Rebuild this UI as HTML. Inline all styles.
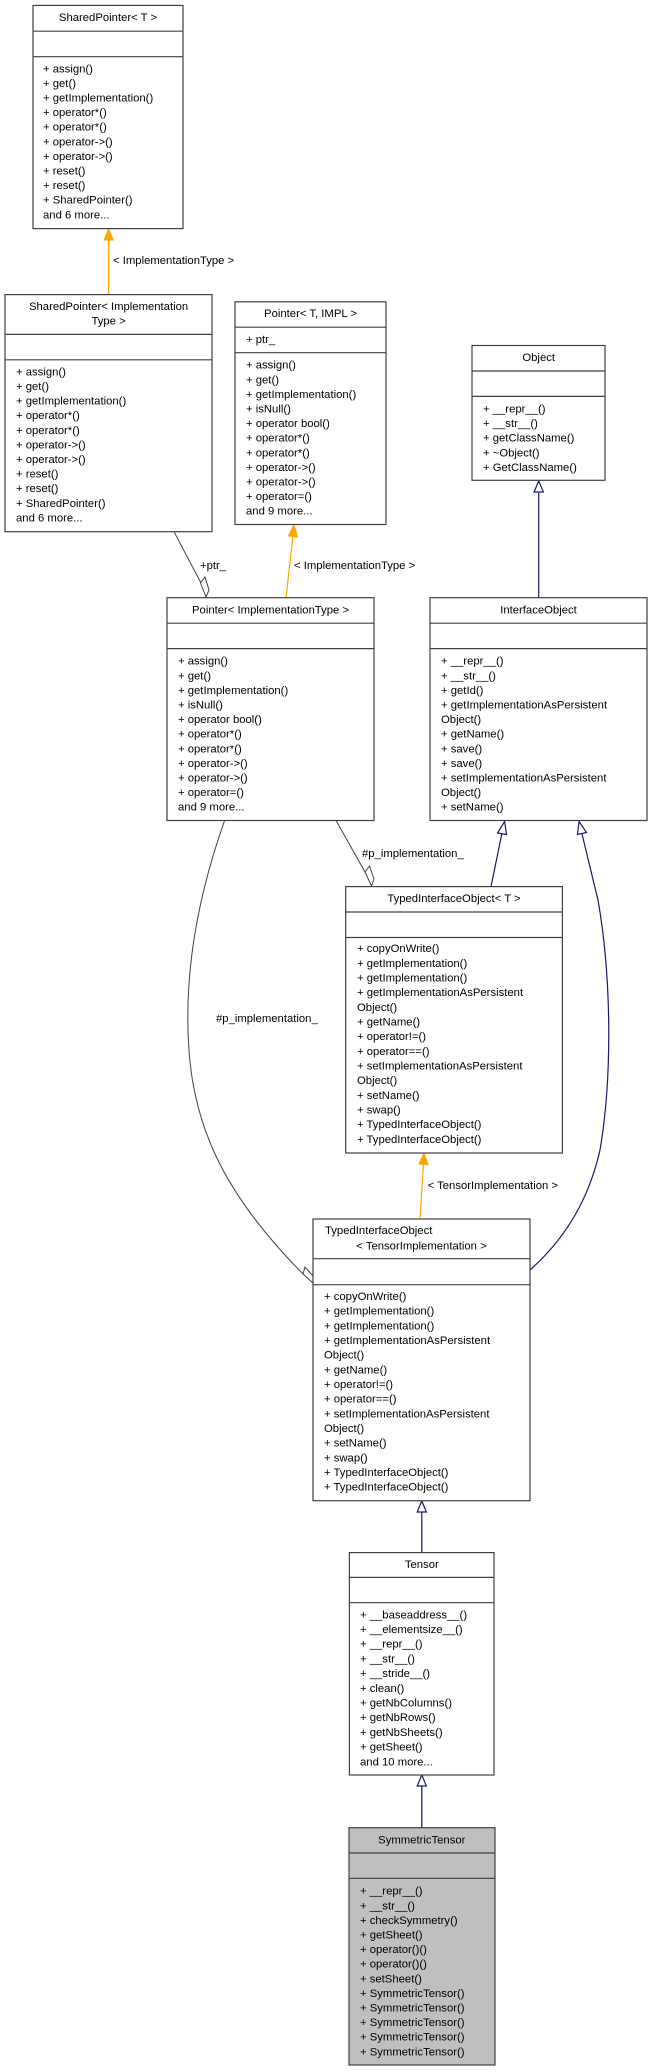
<!DOCTYPE html>
<html><head><meta charset="utf-8"><style>
html,body{margin:0;padding:0;background:#fff;}
svg{display:block;}
text{font-family:"Liberation Sans",sans-serif;font-size:11.3px;fill:#000;}
.b{fill:#fff;stroke:#404040;stroke-width:1.2;}
.g{fill:#bfbfbf;stroke:#404040;stroke-width:1.2;}
.s{stroke:#404040;stroke-width:1.2;}
</style></head><body>
<svg width="649" height="2072" viewBox="0 0 649 2072" xmlns="http://www.w3.org/2000/svg">
<g fill="none">
<line x1="108.6" y1="294.6" x2="108.6" y2="240" stroke="#ffa500" stroke-width="1.2"/>
<polygon points="108.6,229 104,240 113.2,240" fill="#ffa500" stroke="#ffa500"/>
<line x1="174" y1="531.7" x2="201" y2="583" stroke="#404040"/>
<polygon points="206,597 200.5,583 205,577 209,590" fill="#fff" stroke="#404040"/>
<line x1="286" y1="597.7" x2="293" y2="536" stroke="#ffa500" stroke-width="1.2"/>
<polygon points="294,524.5 288.5,536 297.5,537" fill="#ffa500" stroke="#ffa500"/>
<line x1="538.7" y1="597.7" x2="538.7" y2="492" stroke="#191970" stroke-width="1.2"/>
<polygon points="538.7,481 534,492 543.4,492" fill="#fff" stroke="#191970" stroke-width="1.2"/>
<line x1="336" y1="820.5" x2="365" y2="872" stroke="#404040"/>
<polygon points="371.5,886 365,872 369.5,866 374,879" fill="#fff" stroke="#404040"/>
<line x1="491" y1="886.6" x2="502" y2="833" stroke="#191970" stroke-width="1.2"/>
<polygon points="504.6,821.4 497.5,833 506.5,834.5" fill="#fff" stroke="#191970" stroke-width="1.2"/>
<path d="M530,1270 C575,1230 592,1185 600,1150 C612,1080 612,980 598,900 L582,834" stroke="#191970" stroke-width="1.2"/>
<polygon points="579,821.4 577.5,834.5 586.5,832.5" fill="#fff" stroke="#191970" stroke-width="1.2"/>
<path d="M224.6,820.5 C200,890 186,960 188,1030 C190,1120 220,1190 303,1274" stroke="#404040"/>
<polygon points="313,1283 303,1274 305,1267 313,1276" fill="#fff" stroke="#404040"/>
<line x1="420" y1="1219" x2="423.5" y2="1164" stroke="#ffa500" stroke-width="1.2"/>
<polygon points="424,1153 419,1164 428,1164.5" fill="#ffa500" stroke="#ffa500"/>
<line x1="421.8" y1="1552.6" x2="421.8" y2="1512" stroke="#191970" stroke-width="1.2"/>
<polygon points="421.8,1501 417.2,1512 426.4,1512" fill="#fff" stroke="#191970" stroke-width="1.2"/>
<line x1="421.8" y1="1827.7" x2="421.8" y2="1786" stroke="#191970" stroke-width="1.2"/>
<polygon points="421.8,1775 417.2,1786 426.4,1786" fill="#fff" stroke="#191970" stroke-width="1.2"/>
</g>
<text x="113" y="264">&lt; ImplementationType &gt;</text>
<text x="200" y="569">+ptr_</text>
<text x="294" y="569">&lt; ImplementationType &gt;</text>
<text x="362" y="857">#p_implementation_</text>
<text x="216" y="1022">#p_implementation_</text>
<text x="427.6" y="1189">&lt; TensorImplementation &gt;</text>

<rect class="b" x="33" y="5.4" width="150" height="223.2"/>
<line class="s" x1="33" y1="31.2" x2="183" y2="31.2"/><line class="s" x1="33" y1="56.7" x2="183" y2="56.7"/>
<text x="108" y="21" text-anchor="middle">SharedPointer&lt; T &gt;</text>
<g transform="translate(43,72.3)">
<text y="0">+ assign()</text><text y="14.6">+ get()</text><text y="29.2">+ getImplementation()</text><text y="43.8">+ operator*()</text><text y="58.4">+ operator*()</text><text y="73">+ operator-&gt;()</text><text y="87.6">+ operator-&gt;()</text><text y="102.2">+ reset()</text><text y="116.8">+ reset()</text><text y="131.4">+ SharedPointer()</text><text y="146">and 6 more...</text>
</g>

<rect class="b" x="5" y="294.6" width="207" height="237.1"/>
<line class="s" x1="5" y1="334.4" x2="212" y2="334.4"/><line class="s" x1="5" y1="359.8" x2="212" y2="359.8"/>
<text x="108.6" y="310" text-anchor="middle">SharedPointer&lt; Implementation</text>
<text x="108.6" y="324.5" text-anchor="middle">Type &gt;</text>
<g transform="translate(16,375.4)">
<text y="0">+ assign()</text><text y="14.6">+ get()</text><text y="29.2">+ getImplementation()</text><text y="43.8">+ operator*()</text><text y="58.4">+ operator*()</text><text y="73">+ operator-&gt;()</text><text y="87.6">+ operator-&gt;()</text><text y="102.2">+ reset()</text><text y="116.8">+ reset()</text><text y="131.4">+ SharedPointer()</text><text y="146">and 6 more...</text>
</g>

<rect class="b" x="235" y="301.8" width="151" height="222.7"/>
<line class="s" x1="235" y1="327.2" x2="386" y2="327.2"/><line class="s" x1="235" y1="352.7" x2="386" y2="352.7"/>
<text x="310.5" y="317" text-anchor="middle">Pointer&lt; T, IMPL &gt;</text>
<text x="246" y="343">+ ptr_</text>
<g transform="translate(246,368.7)">
<text y="0">+ assign()</text><text y="14.6">+ get()</text><text y="29.2">+ getImplementation()</text><text y="43.8">+ isNull()</text><text y="58.4">+ operator bool()</text><text y="73">+ operator*()</text><text y="87.6">+ operator*()</text><text y="102.2">+ operator-&gt;()</text><text y="116.8">+ operator-&gt;()</text><text y="131.4">+ operator=()</text><text y="146">and 9 more...</text>
</g>

<rect class="b" x="472" y="345.5" width="133" height="134.8"/>
<line class="s" x1="472" y1="371" x2="605" y2="371"/><line class="s" x1="472" y1="396.4" x2="605" y2="396.4"/>
<text x="538.7" y="361" text-anchor="middle">Object</text>
<g transform="translate(483,412.5)">
<text y="0">+ __repr__()</text><text y="14.6">+ __str__()</text><text y="29.2">+ getClassName()</text><text y="43.8">+ ~Object()</text><text y="58.4">+ GetClassName()</text>
</g>

<rect class="b" x="167" y="597.7" width="207" height="222.8"/>
<line class="s" x1="167" y1="623.2" x2="374" y2="623.2"/><line class="s" x1="167" y1="648.6" x2="374" y2="648.6"/>
<text x="270.5" y="613.3" text-anchor="middle">Pointer&lt; ImplementationType &gt;</text>
<g transform="translate(178,664.7)">
<text y="0">+ assign()</text><text y="14.6">+ get()</text><text y="29.2">+ getImplementation()</text><text y="43.8">+ isNull()</text><text y="58.4">+ operator bool()</text><text y="73">+ operator*()</text><text y="87.6">+ operator*()</text><text y="102.2">+ operator-&gt;()</text><text y="116.8">+ operator-&gt;()</text><text y="131.4">+ operator=()</text><text y="146">and 9 more...</text>
</g>

<rect class="b" x="430" y="597.7" width="217" height="222.8"/>
<line class="s" x1="430" y1="623.2" x2="647" y2="623.2"/><line class="s" x1="430" y1="648.6" x2="647" y2="648.6"/>
<text x="538.5" y="613.3" text-anchor="middle">InterfaceObject</text>
<g transform="translate(441,664.7)">
<text y="0">+ __repr__()</text><text y="14.6">+ __str__()</text><text y="29.2">+ getId()</text><text y="43.8">+ getImplementationAsPersistent</text><text y="58.4">Object()</text><text y="73">+ getName()</text><text y="87.6">+ save()</text><text y="102.2">+ save()</text><text y="116.8">+ setImplementationAsPersistent</text><text y="131.4">Object()</text><text y="146">+ setName()</text>
</g>

<rect class="b" x="345.7" y="886.6" width="216.7" height="266.4"/>
<line class="s" x1="345.7" y1="912" x2="562.4" y2="912"/><line class="s" x1="345.7" y1="937.5" x2="562.4" y2="937.5"/>
<text x="454" y="902" text-anchor="middle">TypedInterfaceObject&lt; T &gt;</text>
<g transform="translate(357,952.2)">
<text y="0">+ copyOnWrite()</text><text y="14.67">+ getImplementation()</text><text y="29.34">+ getImplementation()</text><text y="44">+ getImplementationAsPersistent</text><text y="58.7">Object()</text><text y="73.35">+ getName()</text><text y="88">+ operator!=()</text><text y="102.7">+ operator==()</text><text y="117.4">+ setImplementationAsPersistent</text><text y="132">Object()</text><text y="146.7">+ setName()</text><text y="161.4">+ swap()</text><text y="176">+ TypedInterfaceObject()</text><text y="190.7">+ TypedInterfaceObject()</text>
</g>

<rect class="b" x="313" y="1219" width="217" height="281.7"/>
<line class="s" x1="313" y1="1258.7" x2="530" y2="1258.7"/><line class="s" x1="313" y1="1284.7" x2="530" y2="1284.7"/>
<text x="325" y="1234">TypedInterfaceObject</text>
<text x="421.5" y="1249.7" text-anchor="middle">&lt; TensorImplementation &gt;</text>
<g transform="translate(324,1300)">
<text y="0">+ copyOnWrite()</text><text y="14.67">+ getImplementation()</text><text y="29.34">+ getImplementation()</text><text y="44">+ getImplementationAsPersistent</text><text y="58.7">Object()</text><text y="73.35">+ getName()</text><text y="88">+ operator!=()</text><text y="102.7">+ operator==()</text><text y="117.4">+ setImplementationAsPersistent</text><text y="132">Object()</text><text y="146.7">+ setName()</text><text y="161.4">+ swap()</text><text y="176">+ TypedInterfaceObject()</text><text y="190.7">+ TypedInterfaceObject()</text>
</g>

<rect class="b" x="349.4" y="1552.6" width="144.6" height="222.4"/>
<line class="s" x1="349.4" y1="1577.4" x2="494" y2="1577.4"/><line class="s" x1="349.4" y1="1602.7" x2="494" y2="1602.7"/>
<text x="421.8" y="1568" text-anchor="middle">Tensor</text>
<g transform="translate(360,1618.3)">
<text y="0">+ __baseaddress__()</text><text y="14.7">+ __elementsize__()</text><text y="29.4">+ __repr__()</text><text y="44.1">+ __str__()</text><text y="58.8">+ __stride__()</text><text y="73.5">+ clean()</text><text y="88.2">+ getNbColumns()</text><text y="102.9">+ getNbRows()</text><text y="117.6">+ getNbSheets()</text><text y="132.3">+ getSheet()</text><text y="147">and 10 more...</text>
</g>

<rect class="g" x="349" y="1827.7" width="146" height="237.3"/>
<line class="s" x1="349" y1="1853" x2="495" y2="1853"/><line class="s" x1="349" y1="1878.3" x2="495" y2="1878.3"/>
<text x="421.8" y="1843.3" text-anchor="middle">SymmetricTensor</text>
<g transform="translate(360,1894.7)">
<text y="0">+ __repr__()</text><text y="14.6">+ __str__()</text><text y="29.2">+ checkSymmetry()</text><text y="43.8">+ getSheet()</text><text y="58.4">+ operator()()</text><text y="73">+ operator()()</text><text y="87.6">+ setSheet()</text><text y="102.2">+ SymmetricTensor()</text><text y="116.8">+ SymmetricTensor()</text><text y="131.4">+ SymmetricTensor()</text><text y="146">+ SymmetricTensor()</text><text y="160.6">+ SymmetricTensor()</text>
</g>
</svg>
</body></html>
